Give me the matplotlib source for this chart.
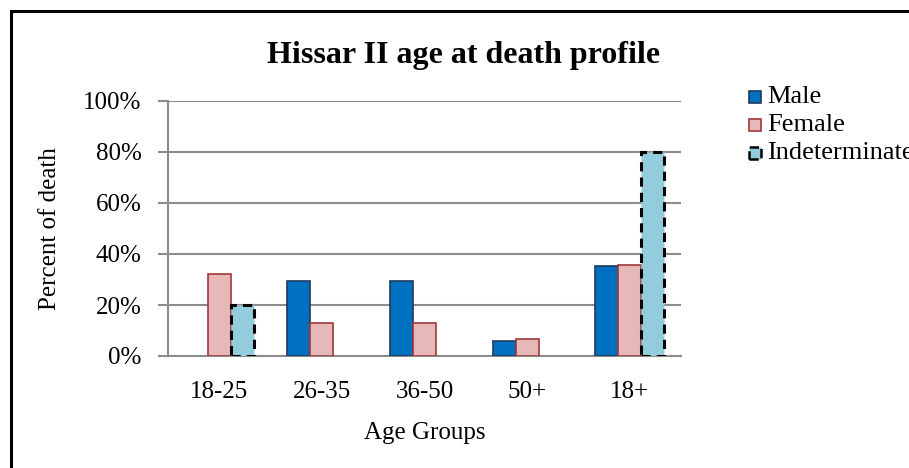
import numpy as np
import matplotlib
matplotlib.use("Agg")
import matplotlib.pyplot as plt
from matplotlib.patches import Rectangle

# ---------- DATA ----------
age_groups = ["18-25", "26-35", "36-50", "50+", "18+"]
male = [0.0, 29.4, 29.4, 5.9, 35.4]
female = [32.2, 12.8, 12.8, 6.5, 35.5]
indeterminate = [20.0, 0.0, 0.0, 0.0, 80.0]
yticks = [0, 20, 40, 60, 80, 100]

plt.rcParams["font.family"] = ["Liberation Serif", "DejaVu Serif"]

fig = plt.figure(figsize=(9.09, 4.68), dpi=100)
ax = fig.add_axes([168 / 909, 1 - 356 / 468, 513 / 909, 255 / 468])

x = np.arange(len(age_groups))
w = 0.224


def draw_series(values, offset, **style):
    # empty categories get no bar at all (avoids an outline on the baseline)
    vals = np.asarray(values)
    keep = vals > 0
    ax.bar(x[keep] + offset, vals[keep], w, zorder=3, **style)


draw_series(male, -w, color="#0070C0", edgecolor="#1F3A5F", linewidth=1.2)
draw_series(female, 0, color="#E6B9B8", edgecolor="#A0383A", linewidth=1.2)
draw_series(indeterminate, w, color="#93CDDD", edgecolor="black",
            linewidth=2.2, linestyle=(0, (3, 2)))

ax.set_xlim(-0.5, len(age_groups) - 0.5)
ax.set_ylim(0, 100)
ax.set_yticks(yticks)
ax.set_yticklabels([f"{v}%" for v in yticks], fontsize=18)
ax.set_xticks(x)
ax.set_xticklabels(age_groups, fontsize=18)

ax.yaxis.grid(True, color="#8C8C8C", linewidth=1.5, zorder=0)
ax.set_axisbelow(True)
for side in ["top", "right"]:
    ax.spines[side].set_visible(False)
for side in ["left", "bottom"]:
    ax.spines[side].set_color("#8C8C8C")
    ax.spines[side].set_linewidth(1.5)
ax.tick_params(axis="y", length=7, width=1.5, color="#8C8C8C", pad=12)
ax.tick_params(axis="x", length=0, pad=18)

ax.set_ylabel("Percent of death", fontsize=18, labelpad=16)
ax.set_xlabel("Age Groups", fontsize=18, labelpad=14)

fig.text(464 / 909, 1 - 55 / 468, "Hissar II age at death profile",
         ha="center", va="center", fontsize=23, fontweight="bold")

# legend drawn by hand on the right
legend_items = [
    ("Male", "#0070C0", "#1F3A5F", "-"),
    ("Female", "#E6B9B8", "#A0383A", "-"),
    ("Indeterminate", "#93CDDD", "black", "--"),
]
for i, (label, fc, ec, ls) in enumerate(legend_items):
    yc = 1 - (97 + i * 28) / 468
    fig.patches.append(Rectangle((749 / 909, yc - 6 / 468), 12 / 909, 12 / 468,
                                 transform=fig.transFigure, facecolor=fc,
                                 edgecolor=ec, linewidth=1.8 if ls == "--" else 1.2,
                                 linestyle=ls))
    fig.text(767 / 909, yc, label, ha="left", va="center", fontsize=19)

# outer frame
fig.patches.append(Rectangle((11 / 909, -0.1), 1.2, 1.1 - 11 / 468,
                             transform=fig.transFigure, fill=False,
                             edgecolor="black", linewidth=2.2))

fig.savefig("out.png", dpi=100)
